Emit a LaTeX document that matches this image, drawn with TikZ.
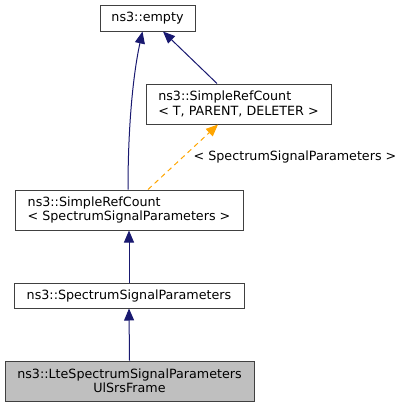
\documentclass[tikz,border=0pt]{standalone}
\usepackage{fontspec}
\setmainfont{DejaVu Sans}
\usetikzlibrary{arrows.meta}
\definecolor{edgeblue}{HTML}{191970}
\definecolor{tmplorange}{HTML}{FFA500}
\definecolor{boxgray}{HTML}{404040}
\definecolor{curfill}{HTML}{BFBFBF}
\tikzset{
	cls/.style={draw=boxgray, line width=1pt, fill=white, inner sep=0pt, font=\fontsize{12.7}{14.5}\selectfont},
	inh/.style={edgeblue, line width=1pt, -{Triangle[length=12pt,width=10pt]}},
	tmpl/.style={tmplorange, dashed, line width=1pt, dash pattern=on 5pt off 4pt, -{Triangle[length=12pt,width=10pt]}},
}
\begin{document}
\begin{tikzpicture}[x=1pt,y=-1pt]
	\useasboundingbox (0,0) rectangle (405,408);
	\node[cls, minimum width=95, minimum height=26] (empty) at (147.5,18) {ns3::empty};
	\node[cls, minimum width=185, minimum height=40, align=left] (srct) at (238.5,104) {ns3::SimpleRefCount\\< T, PARENT, DELETER >};
	\node[cls, minimum width=228, minimum height=40, align=left] (srcssp) at (129,210) {ns3::SimpleRefCount\\< SpectrumSignalParameters >};
	\node[cls, minimum width=230, minimum height=25] (ssp) at (129,295.5) {ns3::SpectrumSignalParameters};
	\node[cls, fill=curfill, minimum width=249, minimum height=40, align=center] (lte) at (129.5,381) {ns3::LteSpectrumSignalParameters\\UlSrsFrame};
	\node[font=\fontsize{12.7}{14.5}\selectfont, inner sep=0pt] (tlabel) at (295,157) {< SpectrumSignalParameters >};
	\draw[inh] ([xshift=-1]srcssp.north) .. controls (128,120) and (134,70) .. ([xshift=-5]empty.south);
	\draw[inh] ([xshift=-21.5]srct.north) -- ([xshift=15.5]empty.south);
	\draw[tmpl] ([xshift=19]srcssp.north) -- ([xshift=-20.5]srct.south);
	\draw[inh] (ssp.north) -- (srcssp.south);
	\draw[inh] (lte.north) -- (ssp.south);
\end{tikzpicture}
\end{document}
